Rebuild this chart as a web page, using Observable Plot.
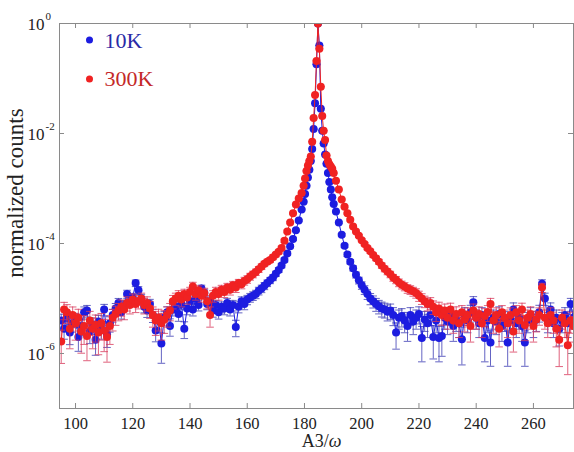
<!DOCTYPE html>
<html><head><meta charset="utf-8">
<script src="https://cdn.jsdelivr.net/npm/d3@7"></script>
<script src="https://cdn.jsdelivr.net/npm/@observablehq/plot@0.6"></script>
<style>html,body{margin:0;padding:0;background:#fff;}</style>
</head><body><div id="chart"></div>
<script>
// A3 angle (omega) positions
const angleA3 = [
  95,96,97,98,99,100,101,102,103,104,105,106,107,108,109,110,111,112,113,114,
  115,116,117,118,119,120,121,122,123,124,125,126,127,128,129,130,131,132,133,134,
  135,136,137,138,139,140,141,142,143,144,145,146,147,148,149,150,151,152,153,154,
  155,156,157,158,159,160,161,162,163,164,165,166,167,168,169,170,171,172,173,174,
  175,176,177,178,179,
  179.7,180.2,180.7,181.2,181.7,182.2,182.7,183.2,183.7,184.2,184.7,185.2,185.7,186.2,186.7,187.2,187.7,188.2,188.7,189.2,189.7,190.2,
  191,192,193,194,195,196,197,198,199,200,201,202,203,204,205,206,207,208,209,210,
  211,212,213,214,215,216,217,218,219,220,221,222,223,224,225,226,227,228,229,230,
  231,232,233,234,235,236,237,238,239,240,241,242,243,244,245,246,247,248,249,250,
  251,252,253,254,255,256,257,258,259,260,261,262,263,264,265,266,267,268,269,270,
  271,272,273,274
];

// log10 of normalized counts, 10K
const log10Counts10K = [
  -5.40,-5.55,-5.35,-5.62,-5.45,-5.38,-5.70,-5.50,-5.25,-5.22,
  -5.60,-5.48,-5.75,-5.42,-5.55,-5.20,-5.65,-5.45,-5.30,-5.18,
  -5.08,-5.25,-5.12,-4.92,-5.05,-4.98,-4.72,-4.85,-5.00,-5.15,
  -5.22,-5.10,-5.30,-5.58,-5.40,-5.82,-5.35,-5.25,-5.50,-5.20,
  -5.15,-5.28,-5.10,-5.55,-5.18,-5.05,-5.20,-5.00,-5.12,-4.82,
  -4.90,-5.10,-5.05,-5.22,-5.12,-5.25,-5.15,-5.18,-5.08,-5.20,
  -5.12,-5.52,-5.15,-5.05,-5.10,-5.02,-4.98,-4.95,-4.92,-4.86,
  -4.82,-4.77,-4.72,-4.67,-4.62,-4.55,-4.48,-4.40,-4.30,-4.18,
  -4.05,-3.92,-3.76,-3.58,-3.38,
  -3.24,-3.10,-2.95,-2.80,-2.66,-2.50,-2.28,-1.92,-1.45,-0.74,0,-0.40,-1.55,-1.95,-2.18,-2.38,-2.55,-2.72,-2.88,-3.02,-3.16,-3.28,
  -3.42,-3.62,-3.84,-4.04,-4.20,-4.33,-4.45,-4.57,-4.67,-4.76,
  -4.84,-4.92,-5.00,-5.05,-5.10,-5.14,-5.18,-5.20,-5.24,-5.22,
  -5.30,-5.62,-5.35,-5.32,-5.40,-5.50,-5.30,-5.42,-5.35,-5.28,
  -5.72,-5.38,-5.45,-5.30,-5.70,-5.40,-5.72,-5.68,-5.35,-5.42,
  -5.30,-5.50,-5.38,-5.45,-5.74,-5.30,-5.40,-5.25,-5.07,-5.35,
  -5.45,-5.30,-5.72,-5.40,-5.80,-5.35,-5.42,-5.28,-5.50,-5.38,
  -5.80,-5.40,-5.20,-5.45,-5.35,-5.50,-5.80,-5.40,-5.30,-5.45,
  -5.38,-5.25,-4.73,-5.00,-5.40,-5.20,-5.45,-5.35,-5.55,-5.40,
  -5.30,-5.45,-5.10,-5.35
];

// log10 of normalized counts, 300K
const log10Counts300K = [
  -5.78,-5.20,-5.25,-5.55,-5.30,-5.45,-5.35,-5.60,-5.50,-5.68,
  -5.40,-5.55,-5.48,-5.62,-5.45,-5.58,-5.70,-5.50,-5.35,-5.28,
  -5.22,-5.15,-5.20,-5.08,-5.12,-5.02,-5.10,-5.05,-5.00,-5.12,
  -5.08,-5.18,-5.30,-5.40,-5.35,-5.45,-5.38,-5.30,-5.22,-5.05,
  -5.00,-4.95,-5.02,-4.92,-4.98,-4.88,-4.78,-4.92,-4.85,-4.95,
  -4.90,-5.05,-5.30,-4.95,-4.88,-4.92,-4.84,-4.88,-4.80,-4.84,
  -4.76,-4.80,-4.72,-4.74,-4.68,-4.65,-4.60,-4.56,-4.52,-4.47,
  -4.42,-4.37,-4.33,-4.30,-4.25,-4.20,-4.15,-4.08,-3.95,-3.78,
  -3.62,-3.45,-3.29,-3.18,-3.08,
  -2.95,-2.82,-2.68,-2.58,-2.50,-2.42,-2.15,-1.72,-1.30,-0.68,0,-0.46,-1.15,-1.68,-1.95,-2.12,-2.40,-2.50,-2.56,-2.60,-2.64,-2.72,
  -2.86,-3.02,-3.20,-3.33,-3.45,-3.57,-3.69,-3.78,-3.86,-3.94,
  -4.01,-4.08,-4.14,-4.21,-4.27,-4.33,-4.40,-4.46,-4.51,-4.56,
  -4.62,-4.66,-4.71,-4.75,-4.78,-4.82,-4.84,-4.87,-4.90,-4.95,
  -5.00,-5.05,-5.10,-5.08,-5.15,-5.25,-5.18,-5.30,-5.22,-5.35,
  -5.20,-5.40,-5.28,-5.45,-5.25,-5.38,-5.30,-5.50,-5.22,-5.35,
  -5.28,-5.45,-5.32,-5.25,-5.10,-5.40,-5.30,-5.55,-5.25,-5.35,
  -5.45,-5.30,-5.60,-5.25,-5.40,-5.20,-5.48,-5.35,-5.28,-5.50,
  -5.38,-5.30,-4.80,-5.35,-5.45,-5.30,-5.40,-5.55,-5.75,-5.35,
  -5.45,-5.85,-5.40,-5.50
];

// error bar half-lengths, in units of 1e-6
const ERR_UNIT = 1e-6;
const err10K = [
  1.2,1.0,1.3,0.95,1.1,1.2,0.9,1.05,1.4,1.45,
  1.0,1.1,0.85,1.15,1.0,1.5,0.95,1.1,1.3,1.5,
  1.7,1.4,1.6,2.1,1.8,1.9,2.6,2.3,1.9,1.6,
  1.5,1.7,1.35,1.0,1.2,0.85,1.3,1.45,1.1,1.5,
  1.6,1.4,1.7,0.95,1.55,1.8,1.5,1.9,1.65,2.35,
  2.15,1.7,1.8,1.45,1.65,1.4,1.6,1.55,1.75,1.5,
  1.65,1.0,1.6,1.8,1.7,1.85,1.9,2.0,2.1,2.2,
  2.35,2.5,2.6,2.8,2.9,3.1,3.4,3.7,4.2,4.8,
  5.6,6.5,7.9,9.6,12,
  14,17,20,24,28,34,43,66,110,260,600,380,100,63,49,39,32,26,22,18,16,14,
  12,9.5,7.5,6,5,4.3,3.8,3.3,3.0,2.7,
  2.6,2.4,2.3,2.2,2.1,2.0,2.0,1.9,1.85,1.9,
  1.8,1.2,1.7,1.75,1.6,1.5,1.8,1.6,1.7,1.8,
  1.2,1.65,1.6,1.8,1.2,1.6,1.2,1.2,1.7,1.6,
  1.8,1.5,1.65,1.6,1.2,1.8,1.6,1.9,2.3,1.7,
  1.6,1.8,1.2,1.6,1.0,1.7,1.6,1.8,1.5,1.65,
  1.0,1.6,2.0,1.6,1.7,1.5,1.0,1.6,1.8,1.6,
  1.65,1.9,3.3,2.5,1.6,2.0,1.6,1.7,1.45,1.6,
  1.8,1.6,2.1,1.7
];
const err300K = [
  1.0,2.2,2.1,1.6,2.0,1.8,1.9,1.5,1.7,1.35,
  1.85,1.6,1.7,1.45,1.8,1.55,1.3,1.7,1.9,2.0,
  2.1,2.3,2.2,2.4,2.35,2.5,2.4,2.45,2.5,2.35,
  2.4,2.25,2.0,1.85,1.9,1.8,1.85,2.0,2.1,2.45,
  2.5,2.65,2.5,2.7,2.6,2.8,3.1,2.7,2.9,2.65,
  2.75,2.45,2.0,2.65,2.8,2.7,2.9,2.8,3.0,2.9,
  3.1,3.0,3.2,3.2,3.4,3.5,3.6,3.8,4.0,4.2,
  4.4,4.7,4.9,5.1,5.4,5.7,6.0,6.5,7.5,9.1,
  11,13,16,18,20,
  22,26,32,38,45,52,60,93,150,330,700,420,175,100,77,62,52,45,40,36,33,30,
  26,22,18,15.5,13.5,11.5,10,9.1,8.3,7.5,
  6.9,6.4,6.0,5.5,5.1,4.8,4.4,4.1,3.9,3.7,
  3.4,3.3,3.1,2.9,2.8,2.7,2.6,2.5,2.45,2.35,
  2.2,2.1,2.0,2.05,1.95,1.8,1.95,1.75,1.9,1.7,
  1.9,1.65,1.8,1.6,1.8,1.7,1.75,1.55,1.9,1.7,
  1.8,1.6,1.75,1.8,2.1,1.65,1.75,1.5,1.8,1.7,
  1.6,1.75,1.45,1.8,1.65,1.9,1.6,1.7,1.8,1.55,
  1.7,1.75,3.0,1.7,1.6,1.75,1.65,1.5,1.2,1.7,
  1.6,1.0,1.65,1.55
];

const seriesNames = ["10K", "300K"];
const xTicks = [100, 120, 140, 160, 180, 200, 220, 240, 260];
const yTicks = [1, 1e-2, 1e-4, 1e-6];
const yTickExponents = ["0", "-2", "-4", "-6"];
const xLabel = "A3/ω";
const yLabel = "normalized counts";

const BLUE = "#1c1ce0", RED = "#f02222";
const BLUE_ERR = "#3c3cb4", RED_ERR = "#d83a5c";
const AXIS = "#8a8a8a";

function rows(logs, errs) {
  return angleA3.map((x, i) => {
    const y = Math.pow(10, logs[i]);
    const e = errs[i] * ERR_UNIT;
    return {x, y, lo: y - e, hi: y + e};
  });
}
const d10 = rows(log10Counts10K, err10K);
const d300 = rows(log10Counts300K, err300K);

const capSymbol = {
  draw(ctx, size) {
    const r = Math.sqrt(size / Math.PI);
    ctx.moveTo(-r, 0); ctx.lineTo(r, 0);
  }
};

const W = 574, H = 452, ML = 59, MR = 1, MT = 23, MB = 44;
const FW = W - ML - MR, FH = H - MT - MB;

function seriesMarks(data, col, errCol) {
  return [
    Plot.ruleX(data, {x: "x", y1: "lo", y2: "hi", stroke: errCol, strokeWidth: 0.8, clip: true}),
    Plot.dot(data, {x: "x", y: "lo", symbol: capSymbol, r: 3.8, stroke: errCol, strokeWidth: 0.8, fill: "none", clip: true}),
    Plot.dot(data, {x: "x", y: "hi", symbol: capSymbol, r: 3.8, stroke: errCol, strokeWidth: 0.8, fill: "none", clip: true}),
    Plot.line(data, {x: "x", y: "y", stroke: col, strokeWidth: 1, clip: true}),
    Plot.dot(data, {x: "x", y: "y", r: 4, fill: col, stroke: "none", clip: true})
  ];
}

const chart = Plot.plot({
  width: W, height: H,
  marginLeft: ML, marginRight: MR, marginTop: MT, marginBottom: MB,
  style: {fontFamily: "'Liberation Serif', 'Times New Roman', serif", background: "#fff"},
  x: {domain: [94.4, 274], axis: null},
  y: {type: "log", domain: [1e-7, 1], axis: null},
  marks: [
    ...seriesMarks(d10, BLUE, BLUE_ERR),
    ...seriesMarks(d300, RED, RED_ERR),
    Plot.frame({stroke: AXIS, strokeWidth: 1}),
    // inward ticks on all four sides
    Plot.tickX(xTicks, {x: d => d, insetTop: FH - 5, stroke: AXIS}),
    Plot.tickX(xTicks, {x: d => d, insetBottom: FH - 5, stroke: AXIS}),
    Plot.tickY(yTicks, {y: d => d, insetRight: FW - 5, stroke: AXIS}),
    Plot.tickY(yTicks, {y: d => d, insetLeft: FW - 5, stroke: AXIS}),
    // x tick labels
    Plot.text(xTicks, {x: d => d, text: d => String(d), frameAnchor: "bottom", dy: 15, textAnchor: "middle", lineAnchor: "middle", fontSize: 16.5, fill: "#222"}),
    // y tick labels 10^k
    Plot.text(yTicks, {y: d => d, text: () => "10", frameAnchor: "left", dx: -15, dy: 1, textAnchor: "end", lineAnchor: "middle", fontSize: 17, fill: "#222"}),
    Plot.text(yTicks, {y: d => d, text: (d, i) => yTickExponents[i], frameAnchor: "left", dx: -14, dy: -7, textAnchor: "start", lineAnchor: "middle", fontSize: 11, fill: "#222"}),
    // axis titles
    Plot.text([xLabel], {frameAnchor: "bottom", dx: 5, dy: 33, textAnchor: "middle", lineAnchor: "middle", fontSize: 18, fill: "#222"}),
    Plot.text([yLabel], {frameAnchor: "left", dx: -44, dy: -23, rotate: -90, textAnchor: "middle", lineAnchor: "middle", fontSize: 23, fill: "#222"}),
    // legend
    Plot.dot([seriesNames[0]], {frameAnchor: "top-left", dx: 30, dy: 16.5, r: 3.5, fill: BLUE}),
    Plot.text([seriesNames[0]], {frameAnchor: "top-left", dx: 45, dy: 17.5, textAnchor: "start", lineAnchor: "middle", fontSize: 22, fill: "#2a2aa6"}),
    Plot.dot([seriesNames[1]], {frameAnchor: "top-left", dx: 30, dy: 55.5, r: 3.5, fill: RED}),
    Plot.text([seriesNames[1]], {frameAnchor: "top-left", dx: 45, dy: 55.5, textAnchor: "start", lineAnchor: "middle", fontSize: 22, fill: "#c42828"})
  ]
});

d3.select(chart).selectAll("text").filter(function () { return this.textContent === xLabel; })
  .each(function () {
    this.textContent = "A3/";
    d3.select(this).append("tspan").attr("font-style", "italic").text("ω");
  });

document.getElementById("chart").appendChild(chart);
</script>
</body></html>
